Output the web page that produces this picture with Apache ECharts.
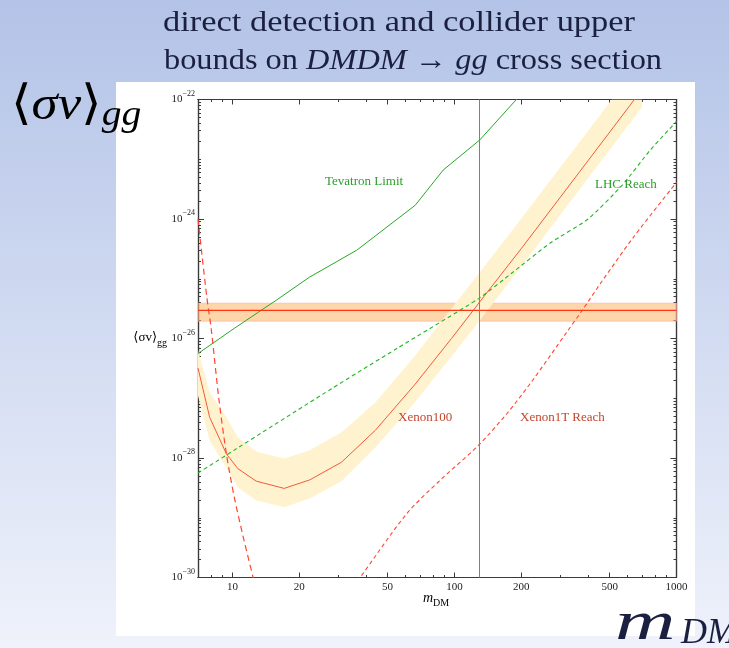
<!DOCTYPE html>
<html>
<head>
<meta charset="utf-8">
<script src="https://cdn.jsdelivr.net/npm/echarts@6/dist/echarts.min.js"></script>
<style>
  html, body { margin: 0; padding: 0; }
  #chart { width: 729px; height: 648px; }
</style>
</head>
<body>
<div id="chart"></div>
<script>
// Dark-matter mass (GeV) and annihilation cross sections <sigma v>_gg (cm^3/s)

// Xenon100 direct-detection bound with its uncertainty band
const xenon100Mass  = [7, 7.9, 9.4, 10.6, 12.8, 17.1, 22.3, 31, 44, 66, 97, 130, 200, 400, 700];
const xenon100Limit = [3.2e-27, 4.8e-28, 1.17e-28, 6.6e-29, 4.1e-29, 3.1e-29, 4.3e-29, 8.5e-29, 2.9e-28, 1.66e-27, 1.0e-26, 4.1e-26, 3.2e-25, 9.5e-24, 1.48e-22];
const xenon100Upper = [6.3e-27, 1.26e-27, 4.8e-28, 2.2e-28, 1.29e-28, 9.8e-29, 1.35e-28, 2.7e-28, 8.5e-28, 5.0e-27, 3.2e-26, 1.29e-25, 1.02e-24, 3.0e-23, 4.7e-22];
const xenon100Lower = [1.1e-27, 1.95e-28, 6.8e-29, 3.2e-29, 1.95e-29, 1.5e-29, 2.1e-29, 4.1e-29, 1.5e-28, 8.3e-28, 5.0e-27, 2.0e-26, 1.6e-25, 4.8e-24, 7.4e-23];

// Tevatron mono-jet limit
const tevatronMass  = [7, 10.2, 15.8, 22.3, 36.3, 66.6, 89, 130, 190, 210];
const tevatronLimit = [5.6e-27, 1.48e-26, 4.4e-26, 1.07e-25, 3.0e-25, 1.7e-24, 6.6e-24, 2.1e-23, 1.0e-22, 1.6e-22];

// LHC reach
const lhcMass  = [7, 28, 55, 129, 182, 271, 400, 570, 760, 1000];
const lhcReach = [5.6e-29, 1.45e-27, 6.8e-27, 4.7e-26, 1.26e-25, 4.0e-25, 1.0e-24, 3.7e-24, 1.41e-23, 4.3e-23];

// Xenon1T reach: light-mass branch and heavy-mass branch
const xenon1tLightMass  = [7, 7.67, 8.04, 8.67, 9.4, 10.2, 11.2, 12.4, 13.2];
const xenon1tLightReach = [1.0e-24, 4.9e-26, 1.38e-26, 1.05e-27, 1.17e-28, 2.2e-29, 4.7e-30, 1.0e-30, 4.0e-31];
const xenon1tHeavyMass  = [35, 37.6, 61, 86, 128, 172, 225, 321, 376, 460, 641, 1000];
const xenon1tHeavyReach = [7.0e-31, 1.0e-30, 1.17e-29, 4.2e-29, 1.62e-28, 5.5e-28, 2.0e-27, 1.29e-26, 2.95e-26, 8.9e-26, 5.0e-25, 4.1e-24];

// Cross section preferred by the 130 GeV line, with its band
const lineSigmaV     = [2.95e-26];
const lineSigmaVBand = [1.95e-26, 3.9e-26];
const lineMass       = [130];

// Axis ticks
const xLabelValues  = [10, 20, 50, 100, 200, 500, 1000];
const xMinorValues  = [7, 8, 9, 30, 40, 60, 70, 80, 90, 300, 400, 600, 700, 800, 900];
const yLabelExps    = [-30, -28, -26, -24, -22];

const L = Math.log10;
const pairs = (xs, ys) => xs.map((m, i) => [L(m), L(ys[i])]);

const xMin = L(7), xMax = 3;
const yMin = -30, yMax = -22;

const yMinorValues = [];
for (let n = -30; n <= -23; n++) {
  for (let k = 1; k <= 9; k++) {
    if (k === 1 && yLabelExps.indexOf(n) >= 0) continue;
    yMinorValues.push(n + L(k));
  }
}

const frame = '#3a3a3a';
const serif = '"Liberation Serif", "DejaVu Serif", serif';

function xAxisDef(pos, ticks, len, withLabels) {
  return {
    type: 'value', position: pos, min: xMin, max: xMax,
    axisLine: { show: true, onZero: false, lineStyle: { color: frame, width: 1.2 } },
    axisTick: { show: true, inside: true, length: len, customValues: ticks.map(L),
                lineStyle: { color: frame, width: 1 } },
    axisLabel: withLabels ? {
      show: true, customValues: ticks.map(L), margin: 4,
      formatter: v => String(Math.round(Math.pow(10, v))),
      color: '#222', fontFamily: serif, fontSize: 11
    } : { show: false },
    splitLine: { show: false }
  };
}

function yAxisDef(pos, ticks, len, withLabels) {
  return {
    type: 'value', position: pos, min: yMin, max: yMax,
    axisLine: { show: true, onZero: false, lineStyle: { color: frame, width: 1.2 } },
    axisTick: { show: true, inside: true, length: len, customValues: ticks,
                lineStyle: { color: frame, width: 1 } },
    axisLabel: withLabels ? {
      show: true, customValues: ticks, margin: 3,
      formatter: v => '{b|10}{s|\u2212' + Math.round(-v) + '}',
      rich: {
        b: { fontFamily: serif, fontSize: 11, color: '#222', lineHeight: 20 },
        s: { fontFamily: serif, fontSize: 8, color: '#222', lineHeight: 9, verticalAlign: 'top' }
      }
    } : { show: false },
    splitLine: { show: false }
  };
}

function measure(parts) {
  const ctx = document.createElement('canvas').getContext('2d');
  return parts.reduce((w, p) => { ctx.font = p.font; return w + ctx.measureText(p.text).width; }, 0);
}

const titleColor = '#1b2040';
const titleFont = '30px ' + serif;
const titleItalic = 'italic 30px ' + serif;
const title1 = 'direct detection and collider upper';
const title1Scale = 472 / measure([{ text: title1, font: titleFont }]);
const title2Parts = [
  { text: 'bounds on ', font: titleFont },
  { text: 'DMDM', font: titleItalic },
  { text: ' \u2192 ', font: titleFont },
  { text: 'gg', font: titleItalic },
  { text: ' cross section', font: titleFont }
];
const title2Scale = 498 / measure(title2Parts);

const chart = echarts.init(document.getElementById('chart'));

chart.setOption({
  animation: false,
  grid: { left: 198, top: 99.5, width: 478.5, height: 478 },
  xAxis: [
    xAxisDef('bottom', xLabelValues, 5, true),
    xAxisDef('bottom', xMinorValues, 2.5, false),
    xAxisDef('top', xLabelValues, 5, false),
    xAxisDef('top', xMinorValues, 2.5, false)
  ],
  yAxis: [
    yAxisDef('left', yLabelExps, 6, true),
    yAxisDef('left', yMinorValues, 3, false),
    yAxisDef('right', yLabelExps, 6, false),
    yAxisDef('right', yMinorValues, 3, false)
  ],
  series: [
    {
      // Xenon100 uncertainty band
      type: 'custom', z: 1, clip: true,
      data: [[2, -26]],
      renderItem: (params, api) => {
        const pts = [];
        for (let i = 0; i < xenon100Mass.length; i++) {
          pts.push(api.coord([L(xenon100Mass[i]), L(xenon100Upper[i])]));
        }
        for (let i = xenon100Mass.length - 1; i >= 0; i--) {
          pts.push(api.coord([L(xenon100Mass[i]), L(xenon100Lower[i])]));
        }
        const cs = params.coordSys;
        return {
          type: 'polygon',
          shape: { points: pts },
          style: { fill: '#fff3cf', stroke: null },
          clipPath: { type: 'rect', shape: { x: cs.x, y: cs.y, width: cs.width, height: cs.height } }
        };
      }
    },
    {
      name: 'Tevatron Limit', type: 'line', z: 3, showSymbol: false,
      data: pairs(tevatronMass, tevatronLimit),
      lineStyle: { color: '#28a828', width: 1 }
    },
    {
      name: 'LHC Reach', type: 'line', z: 3, showSymbol: false, smooth: 0.2,
      data: pairs(lhcMass, lhcReach),
      lineStyle: { color: '#22b522', width: 1.1, type: [4, 3] }
    },
    {
      name: 'Xenon100', type: 'line', z: 3, showSymbol: false,
      data: pairs(xenon100Mass, xenon100Limit),
      lineStyle: { color: '#f25a3a', width: 1 }
    },
    {
      name: 'Xenon1T Reach', type: 'line', z: 3, showSymbol: false, smooth: 0.3,
      data: pairs(xenon1tLightMass, xenon1tLightReach),
      lineStyle: { color: '#ff4530', width: 1.2, type: [6, 4] }
    },
    {
      name: 'Xenon1T Reach', type: 'line', z: 3, showSymbol: false, smooth: 0.3,
      data: pairs(xenon1tHeavyMass, xenon1tHeavyReach),
      lineStyle: { color: '#ff4530', width: 1.1, type: [4, 3] }
    },
    {
      name: '<sigma v> line', type: 'line', z: 4, showSymbol: false,
      data: [[xMin, L(lineSigmaV[0])], [xMax, L(lineSigmaV[0])]],
      lineStyle: { color: '#ff3412', width: 1.2 },
      markArea: {
        silent: true,
        itemStyle: { color: 'rgba(251,176,84,0.5)', borderColor: 'rgba(255,170,170,0.6)', borderWidth: 1 },
        data: [[{ yAxis: L(lineSigmaVBand[0]) }, { yAxis: L(lineSigmaVBand[1]) }]]
      },
      markLine: {
        silent: true, symbol: 'none', label: { show: false },
        lineStyle: { color: '#808080', width: 1, type: 'solid' },
        data: [{ xAxis: L(lineMass[0]) }]
      }
    }
  ],
  graphic: [
    {
      type: 'rect', z: -100, silent: true,
      shape: { x: 0, y: 0, width: 729, height: 648 },
      style: { fill: new echarts.graphic.LinearGradient(0, 0, 0, 1, [
        { offset: 0, color: '#b3c3e7' }, { offset: 1, color: '#eff2fb' }]) }
    },
    {
      type: 'rect', z: -90, silent: true,
      shape: { x: 116, y: 82, width: 579, height: 554 },
      style: { fill: '#ffffff' }
    },
    {
      type: 'circle', z: -80, silent: true,
      shape: { cx: 736, cy: 196, r: 7 },
      style: { fill: titleColor }
    },
    {
      type: 'text', z: 50, x: 163, y: 23, scaleX: title1Scale,
      style: { text: title1, font: titleFont, fill: titleColor, textAlign: 'left', textVerticalAlign: 'middle' }
    },
    {
      type: 'text', z: 50, x: 164, y: 61, scaleX: title2Scale,
      style: {
        text: '{r|bounds on }{i|DMDM}{r| \u2192 }{i|gg}{r| cross section}',
        textAlign: 'left', textVerticalAlign: 'middle',
        rich: {
          r: { font: titleFont, fill: titleColor, color: titleColor },
          i: { font: titleItalic, fill: titleColor, color: titleColor }
        }
      }
    },
    {
      type: 'text', z: 50, x: 11, y: 106, scaleX: 1.1,
      style: {
        text: '{a|\u27E8}{b|\u03C3v}{a|\u27E9}{s|gg}',
        textAlign: 'left', textVerticalAlign: 'middle',
        rich: {
          a: { fontFamily: serif, fontSize: 48, color: titleColor, lineHeight: 56 },
          b: { fontFamily: serif, fontStyle: 'italic', fontSize: 48, color: titleColor, lineHeight: 56 },
          s: { fontFamily: serif, fontStyle: 'italic', fontSize: 36, color: titleColor, lineHeight: 30, verticalAlign: 'bottom' }
        }
      }
    },
    {
      type: 'text', z: 50, x: 615, y: 625, scaleX: 1.55,
      style: { text: 'm', font: 'italic 54px ' + serif, fill: titleColor, textAlign: 'left', textVerticalAlign: 'middle' }
    },
    {
      type: 'text', z: 50, x: 681, y: 634,
      style: { text: 'DM', font: 'italic 36px ' + serif, fill: titleColor, textAlign: 'left', textVerticalAlign: 'middle' }
    },
    {
      type: 'text', z: 50, x: 167, y: 338,
      style: {
        text: '{a|\u27E8\u03C3v\u27E9}{s|gg}',
        textAlign: 'right', textVerticalAlign: 'middle',
        rich: {
          a: { fontFamily: serif, fontSize: 13, color: '#222', lineHeight: 20 },
          s: { fontFamily: serif, fontSize: 10, color: '#222', lineHeight: 9, verticalAlign: 'bottom' }
        }
      }
    },
    {
      type: 'text', z: 50, x: 436, y: 598,
      style: {
        text: '{i|m}{s|DM}',
        textAlign: 'center', textVerticalAlign: 'middle',
        rich: {
          i: { fontFamily: serif, fontStyle: 'italic', fontSize: 14, color: '#222', lineHeight: 20 },
          s: { fontFamily: serif, fontSize: 10, color: '#222', lineHeight: 9, verticalAlign: 'bottom' }
        }
      }
    },
    {
      type: 'text', z: 50, x: 325, y: 182,
      style: { text: 'Tevatron Limit', font: '13px ' + serif, fill: '#2a9e2a', textAlign: 'left', textVerticalAlign: 'middle' }
    },
    {
      type: 'text', z: 50, x: 595, y: 185,
      style: { text: 'LHC Reach', font: '13px ' + serif, fill: '#2a9e2a', textAlign: 'left', textVerticalAlign: 'middle' }
    },
    {
      type: 'text', z: 50, x: 398, y: 418,
      style: { text: 'Xenon100', font: '13px ' + serif, fill: '#c4452c', textAlign: 'left', textVerticalAlign: 'middle' }
    },
    {
      type: 'text', z: 50, x: 520, y: 418,
      style: { text: 'Xenon1T Reach', font: '13px ' + serif, fill: '#c4452c', textAlign: 'left', textVerticalAlign: 'middle' }
    }
  ]
});
</script>
</body>
</html>
